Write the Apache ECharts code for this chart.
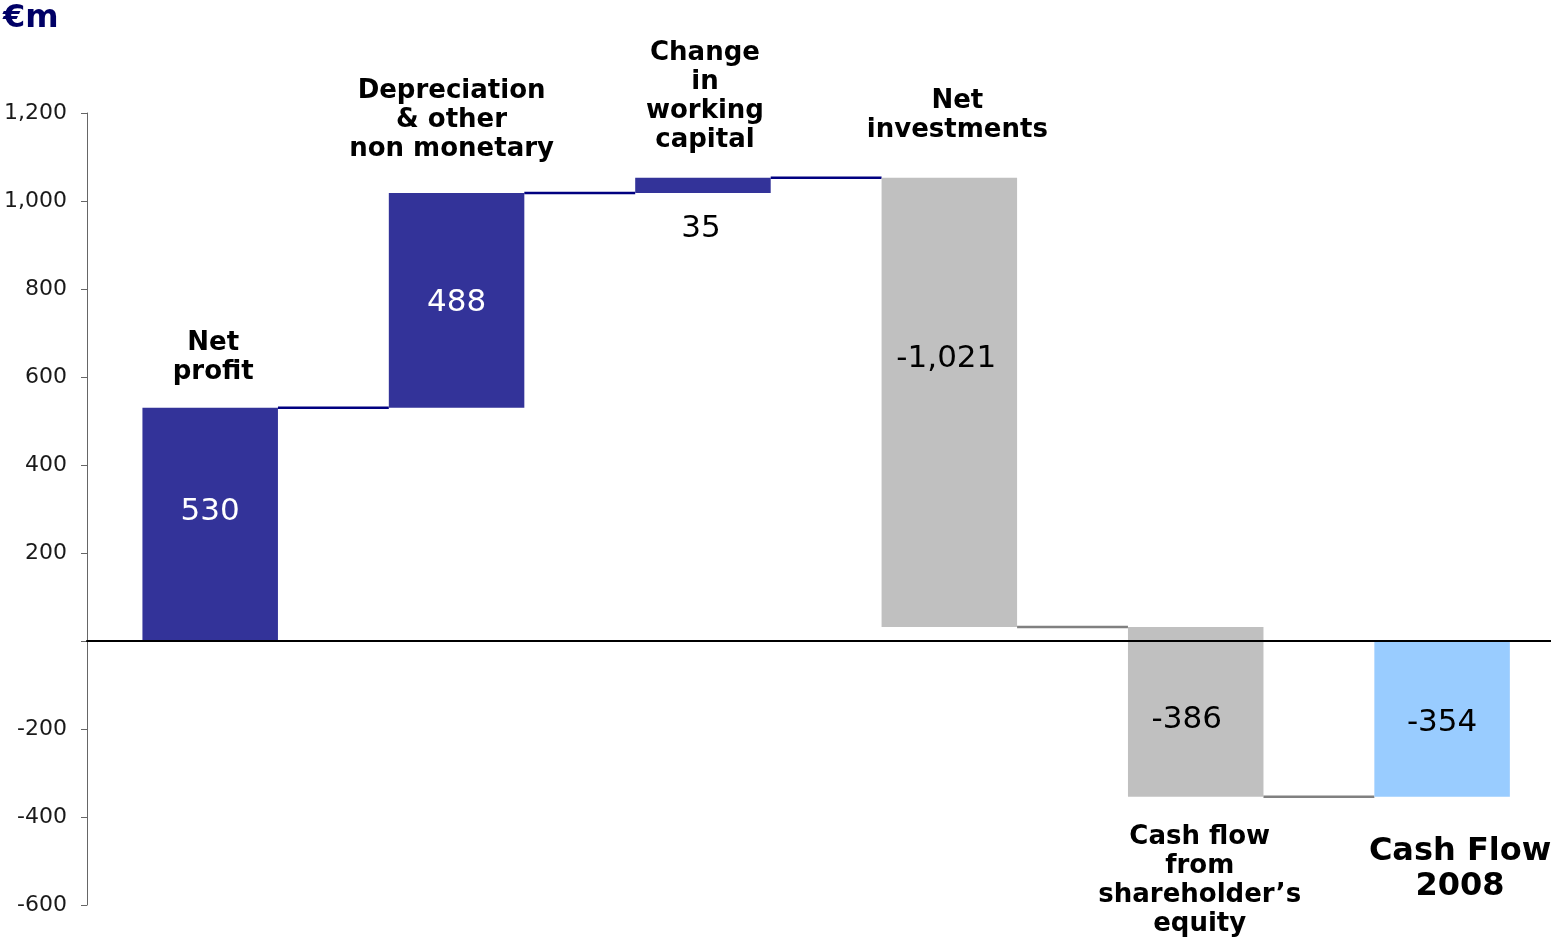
<!DOCTYPE html>
<html>
<head>
<meta charset="utf-8">
<script src="https://cdn.jsdelivr.net/npm/echarts@6/dist/echarts.min.js"></script>
<style>
html,body{margin:0;padding:0;background:#fff;}
#chart{width:1551px;height:937px;}
</style>
</head>
<body>
<div id="chart"></div>
<script>
// ---- data ----
const categories = ['Net\nprofit', 'Depreciation\n& other\nnon monetary', 'Change\nin\nworking\ncapital', 'Net\ninvestments', 'Cash flow\nfrom\nshareholder\u2019s\nequity', 'Cash Flow\n2008'];
const values = [530, 488, 35, -1021, -386, -354];
const isTotal = [false, false, false, false, false, true];
const valueLabels = ['530', '488', '35', '-1,021', '-386', '-354'];
const yTicks = { min: -600, max: 1200, interval: 200 };

// ---- style ----
const barColors = ['#333399', '#333399', '#333399', '#C0C0C0', '#C0C0C0', '#99CCFF'];
const connectorColors = ['#000080', '#000080', '#000080', '#808080', '#808080'];
const valueColors = ['#ffffff', '#ffffff', '#000000', '#000000', '#000000', '#000000'];
const valueDx = [0, 0, -2, -3, -9, 0];
const valueDy = [-12, 3, 44, -43, 8, 4];
const catSide = ['top', 'top', 'top', 'top', 'bottom', 'bottom'];
const catGap = [21, 29, 23, 33, 26, 37];
const catDx = [3, -5, 2, 8, 4, 18];
const catFont = [26, 26, 26, 26, 26, 32];
const catLine = [29, 29, 29, 29, 29, 35];
const xRange = { min: -0.5, max: 5.442 };

// ---- build waterfall ----
const items = [];
let run = 0;
values.forEach((v, i) => {
  let s, e;
  if (isTotal[i]) { s = 0; e = v; }
  else { s = run; e = run + v; }
  run = isTotal[i] ? v : e;
  items.push([i, s, e, v]);
});

const chart = echarts.init(document.getElementById('chart'));
chart.setOption({
  animation: false,
  grid: { left: 87, top: 113, right: 0, height: 792 },
  graphic: [{
    type: 'text', left: 3, top: 3,
    style: { text: '\u20acm', fontFamily: 'DejaVu Sans', fontWeight: 'bold', fontSize: 32, fill: '#000066' }
  }],
  xAxis: {
    type: 'value', min: xRange.min, max: xRange.max, z: 10,
    axisLine: { onZero: true, lineStyle: { color: '#000', width: 2 } },
    axisTick: { show: false }, axisLabel: { show: false }, splitLine: { show: false }
  },
  yAxis: {
    type: 'value', min: yTicks.min, max: yTicks.max, interval: yTicks.interval,
    axisLine: { show: true, onZero: false, lineStyle: { color: '#666', width: 1 } },
    axisTick: { show: true, length: 6, lineStyle: { color: '#666' } },
    splitLine: { show: false },
    axisLabel: {
      margin: 20, color: '#1a1a1a', fontFamily: 'DejaVu Sans', fontSize: 22,
      formatter: v => v === 0 ? '' : v.toLocaleString('en-US')
    }
  },
  series: [{
    type: 'custom',
    data: items,
    renderItem: function (params, api) {
      const i = api.value(0), s = api.value(1), e = api.value(2);
      const hi = Math.max(s, e), lo = Math.min(s, e);
      const pTop = api.coord([i, hi]);
      const pBot = api.coord([i, lo]);
      const w = api.size([1, 0])[0] * 0.55;
      const cx = pTop[0];
      const children = [{
        type: 'rect',
        shape: { x: cx - w / 2, y: pTop[1], width: w, height: pBot[1] - pTop[1] },
        style: { fill: barColors[i] }
      }];
      if (i < items.length - 1) {
        const yE = api.coord([i, e])[1];
        const nx = api.coord([i + 1, e])[0];
        children.push({
          type: 'line',
          shape: { x1: cx + w / 2, y1: yE, x2: nx - w / 2, y2: yE },
          style: { stroke: connectorColors[i], lineWidth: 2.5 }
        });
      }
      const midY = (pTop[1] + pBot[1]) / 2;
      children.push({
        type: 'text',
        style: {
          text: valueLabels[i], x: cx + valueDx[i], y: midY + valueDy[i],
          align: 'center', verticalAlign: 'middle',
          fontFamily: 'DejaVu Sans', fontSize: 31, fill: valueColors[i]
        }
      });
      const top = catSide[i] === 'top';
      children.push({
        type: 'text',
        style: {
          text: categories[i], x: cx + catDx[i],
          y: top ? pTop[1] - catGap[i] : pBot[1] + catGap[i],
          align: 'center', verticalAlign: top ? 'bottom' : 'top',
          fontFamily: 'DejaVu Sans', fontWeight: 'bold', fontSize: catFont[i],
          lineHeight: catLine[i], fill: '#000'
        }
      });
      return { type: 'group', children: children };
    }
  }]
});
</script>
</body>
</html>
